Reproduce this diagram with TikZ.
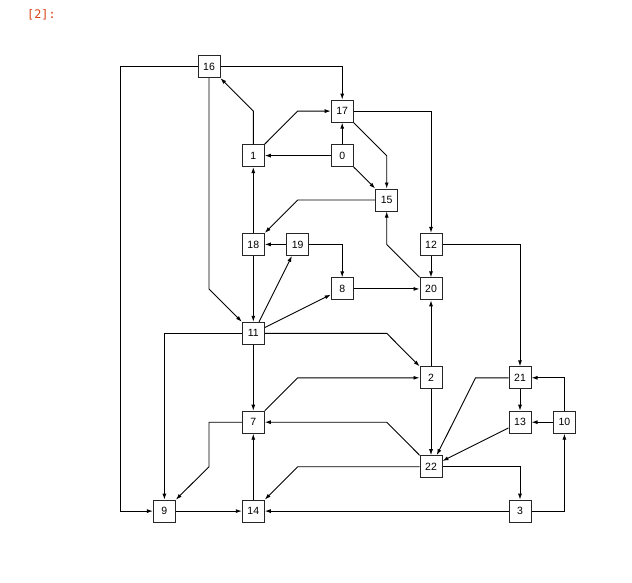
\documentclass[tikz,border=0pt]{standalone}
\usepackage{fontspec}
\setmainfont{Liberation Sans}
\newfontfamily\promptfont{DejaVu Sans Mono}
\usetikzlibrary{arrows.meta}
\definecolor{promptcol}{HTML}{D84315}
\begin{document}
\begin{tikzpicture}[x=1pt,y=-1pt,
  vbox/.style={draw=black!85,line width=1pt,minimum width=22pt,minimum height=22pt,inner sep=0pt,font=\fontsize{10.5}{12}\selectfont,fill=white},
  edge/.style={draw=black,line width=0.9pt,-{Latex[length=6pt,width=4pt]}}]
\useasboundingbox (0,0) rectangle (632,583);
\node[anchor=base west,text=promptcol,font=\promptfont\fontsize{11.8}{13}\selectfont,inner sep=0pt] (prompt) at (27,19) {[2]:};
% nodes
\node[vbox] (n16) at (209,66.7) {16};
\node[vbox] (n17) at (342.2,111.1) {17};
\node[vbox] (n1) at (253.3,155.6) {1};
\node[vbox] (n0) at (342.2,155.6) {0};
\node[vbox] (n15) at (386.7,200) {15};
\node[vbox] (n18) at (253.3,244.4) {18};
\node[vbox] (n19) at (297.7,244.4) {19};
\node[vbox] (n12) at (431,244.4) {12};
\node[vbox] (n8) at (342.2,288.9) {8};
\node[vbox] (n20) at (431,288.9) {20};
\node[vbox] (n11) at (253.3,333.3) {11};
\node[vbox] (n2) at (431,377.8) {2};
\node[vbox] (n21) at (520,377.8) {21};
\node[vbox] (n7) at (253.3,422.2) {7};
\node[vbox] (n13) at (520,422.2) {13};
\node[vbox] (n10) at (564.4,422.2) {10};
\node[vbox] (n22) at (431,466.7) {22};
\node[vbox] (n9) at (164.4,511.1) {9};
\node[vbox] (n14) at (253.3,511.1) {14};
\node[vbox] (n3) at (520,511.1) {3};
% bend coordinates
\coordinate (a16) at (120,66.7);
\coordinate (b16) at (120,511.1);
\coordinate (c16) at (209,288.9);
\coordinate (a1) at (253.3,111.1);
\coordinate (b1) at (297.7,111.1);
\coordinate (a17) at (386.7,155.6);
\coordinate (a15) at (297.7,200);
\coordinate (a20) at (386.7,244.4);
\coordinate (a11) at (386.7,333.3);
\coordinate (a7) at (297.7,377.8);
\coordinate (b7) at (209,422.2);
\coordinate (c7) at (209,466.7);
\coordinate (a22) at (386.7,422.2);
\coordinate (b22) at (297.7,466.7);
\coordinate (a21) at (475.5,377.8);
\begin{scope}[every path/.style={edge}]
\path (n16) -| (n17);
\path (n16) -- (a16) -- (b16) -- (n9);
\path (n16) -- (c16) -- (n11);
\path (n1) -- (a1) -- (n16);
\path (n1) -- (b1) -- (n17);
\path (n0) -- (n1);
\path (n0) -- (n17);
\path (n0) -- (n15);
\path (n17) -- (a17) -- (n15);
\path (n17) -| (n12);
\path (n15) -- (a15) -- (n18);
\path (n20) -- (a20) -- (n15);
\path (n19) -- (n18);
\path (n19) -| (n8);
\path (n18) -- (n1);
\path (n18) -- (n11);
\path (n11) -- (n19);
\path (n11) -- (n8);
\path (n12) -- (n20);
\path (n12) -| (n21);
\path (n8) -- (n20);
\path (n2) -- (n20);
\path (n11) -- (a11) -- (n2);
\path (n11) -- (n7);
\path (n11) -| (n9);
\path (n7) -- (a7) -- (n2);
\path (n7) -- (b7) -- (c7) -- (n9);
\path (n22) -- (a22) -- (n7);
\path (n2) -- (n22);
\path (n21) -- (a21) -- (n22);
\path (n13) -- (n22);
\path (n21) -- (n13);
\path (n10) -- (n13);
\path (n10) |- (n21);
\path (n3) -| (n10);
\path (n22) -| (n3);
\path (n22) -- (b22) -- (n14);
\path (n3) -- (n14);
\path (n9) -- (n14);
\path (n14) -- (n7);
\end{scope}
\end{tikzpicture}
\end{document}
